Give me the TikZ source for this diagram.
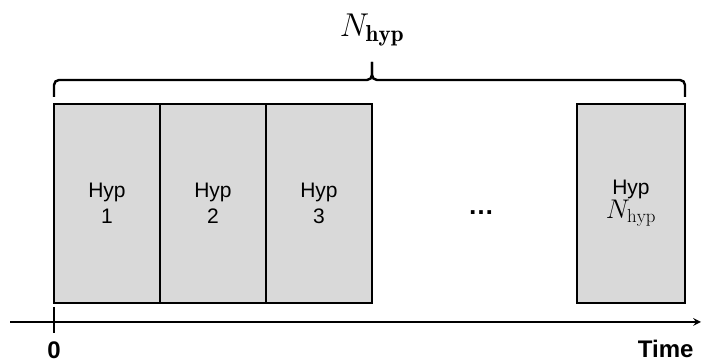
\documentclass[tikz,border=0pt]{standalone}
\usepackage{fix-cm}
\usepackage{fontspec}
\setsansfont{Liberation Sans}
\usepackage{tikz}
\usetikzlibrary{arrows,positioning,calc}

\begin{document}
\begin{tikzpicture}[
        x=1pt, y=1pt,
        node distance=0pt,
        font=\sffamily\fontsize{21}{26}\selectfont,
        % Estilos
        hypbox/.style={rectangle, draw=black, line width=1.6pt, fill=black!15, align=center, minimum width=106pt, minimum height=199pt, inner sep=0pt, outer sep=0pt},
        axis/.style={->, line width=2.4pt, >=stealth},
        bracket/.style={line width=2.4pt, rounded corners=5pt},
        label/.style={font=\sffamily\fontsize{24}{28}\selectfont\bfseries}
    ]
    \useasboundingbox (0,0) rectangle (702,363);

    % Bloques de hipotesis
    \node[hypbox] (hyp1) at (107,159.5) {Hyp\\1};
    \node[hypbox] (hyp2) [right=of hyp1] {Hyp\\2};
    \node[hypbox] (hyp3) [right=of hyp2] {Hyp\\3};
    \node[hypbox, minimum width=108pt] (hypN) at (631,159.5) {Hyp\\[-2pt]{\fontsize{27}{30}\selectfont$N_{\mathrm{hyp}}$}};
    \node[font=\sffamily\fontsize{26}{30}\selectfont] (dots) at (481,150) {\textbf{\dots}};

    % Eje de tiempo
    \coordinate (axstart) at (10,41);
    \coordinate (axend) at (701,41);
    \draw[axis] (axstart) -- (axend);
    \draw[line width=2.6pt] (hyp1.south west |- 0,56) coordinate (tick) -- (hyp1.south west |- 0,30);
    \node[label] (zero) at (54,13) {0};
    \node[label, anchor=east] (time) at (697,14) {Time};

    % Llave superior
    \coordinate (spike) at (hyp3.north east |- 0,301);
    \coordinate (mid) at (hyp3.north east |- 0,283);
    \draw[bracket] ([yshift=7pt]hyp1.north west) |- (mid) -- (spike);
    \draw[bracket] (spike) -- (mid) -| ([yshift=7pt]hypN.north east);
    \node[font=\fontsize{33}{36}\selectfont] (ntotal) at (372,333) {$N_{\mathbf{hyp}}$};

\end{tikzpicture}
\end{document}
